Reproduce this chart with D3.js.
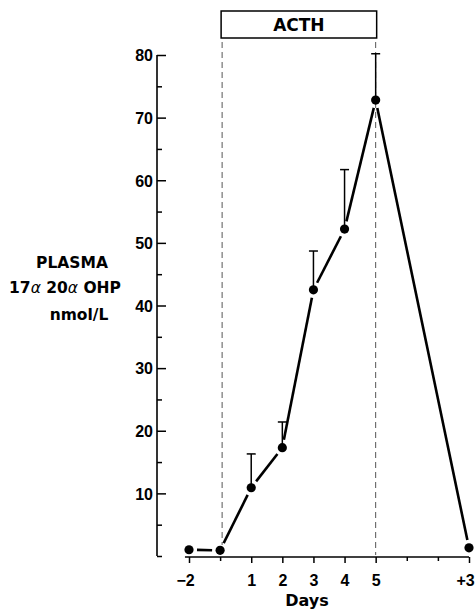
<!DOCTYPE html>
<html>
<head>
<meta charset="utf-8">
<script src="https://cdn.jsdelivr.net/npm/d3@7"></script>
<style>
  html, body { margin: 0; padding: 0; background: #fff; }
  svg { display: block; font-family: "DejaVu Sans", "Liberation Sans", Arial, sans-serif; }
  .axis text { font-size: 16px; font-weight: bold; fill: #000; }
  .axis line { stroke: #000; stroke-width: 1.5; }
</style>
</head>
<body>
<div id="root"></div>
<script>
// ——— data
const dayLabels = ["\u22122", "", "1", "2", "3", "4", "5", "", "", "+3"];
const minorDays = [1, 7, 8];
const dayIndex  = [0, 1, 2, 3, 4, 5, 6, 9];
const means     = [1.0, 0.9, 10.9, 17.3, 42.5, 52.2, 72.8, 1.3];
const errTop    = [null, null, 16.3, 21.4, 48.7, 61.7, 80.2, null];
const yTicks    = [10, 20, 30, 40, 50, 60, 70, 80];
const yMinor    = [0, 5, 15, 25, 35, 45, 55, 65, 75];
const acthSpan  = [1, 6];

const width = 476, height = 611;
const svg = d3.select("#root").append("svg")
  .attr("width", width).attr("height", height);

const x = d3.scaleLinear().domain([0, 9]).range([189, 469]);
const y = d3.scaleLinear().domain([0, 80]).range([556, 55]);
const xAxisY = 557, yAxisX = 157;

// ——— axe Y (ticks vers l'intérieur)
const gy = svg.append("g").attr("class", "axis")
  .attr("transform", `translate(${yAxisX},0)`);
gy.call(d3.axisLeft(y).tickValues(yTicks).tickSize(-9).tickPadding(4).tickFormat(d3.format("d")));
gy.select(".domain").remove();
gy.selectAll(".tick text").attr("dy", "0.36em");
svg.append("g").attr("transform", `translate(${yAxisX},0)`)
  .call(d3.axisLeft(y).tickValues(yMinor).tickSize(-5).tickFormat(""))
  .call(g => g.select(".domain").remove())
  .selectAll("line").attr("stroke", "#000").attr("stroke-width", 1.5);
svg.append("line")
  .attr("x1", yAxisX).attr("x2", yAxisX)
  .attr("y1", y(80)).attr("y2", y(0))
  .attr("stroke", "#000").attr("stroke-width", 1.6);

// ——— axe X
const gx = svg.append("g").attr("class", "axis")
  .attr("transform", `translate(0,${xAxisY})`);
gx.call(d3.axisBottom(x).tickValues(d3.range(10).filter(i => !minorDays.includes(i)))
  .tickSize(6).tickPadding(12).tickFormat(i => dayLabels[i]));
gx.select(".domain").remove();
gx.selectAll(".tick text").filter(i => i === 9).attr("dx", -4);
gx.selectAll(".tick text").filter(i => i === 0).attr("dx", -4);
svg.append("g").attr("transform", `translate(0,${xAxisY})`)
  .call(d3.axisBottom(x).tickValues(minorDays).tickSize(4).tickFormat(""))
  .call(g => g.select(".domain").remove())
  .selectAll("line").attr("stroke", "#000").attr("stroke-width", 1.5);
svg.append("line")
  .attr("x1", x(-0.13)).attr("x2", x(9))
  .attr("y1", xAxisY).attr("y2", xAxisY)
  .attr("stroke", "#000").attr("stroke-width", 1.6);

svg.append("text")
  .attr("x", 307).attr("y", 606)
  .attr("text-anchor", "middle")
  .attr("font-size", 16).attr("font-weight", "bold")
  .text("Days");

// ——— titre Y
const ylab = svg.append("text").attr("font-size", 15.5).attr("font-weight", "bold")
  .attr("text-anchor", "middle");
ylab.append("tspan").attr("x", 72).attr("y", 268).text("PLASMA");
const l2 = ylab.append("tspan").attr("x", 65).attr("y", 293);
l2.append("tspan").text("17");
l2.append("tspan").attr("font-weight", "normal").attr("font-style", "italic").text("\u03b1");
l2.append("tspan").text(" 20");
l2.append("tspan").attr("font-weight", "normal").attr("font-style", "italic").text("\u03b1");
l2.append("tspan").text(" OHP");
ylab.append("tspan").attr("x", 79).attr("y", 320).text("nmol/L");

// ——— encadré ACTH + pointillés
svg.append("rect")
  .attr("x", x(acthSpan[0]) + 1).attr("y", 11)
  .attr("width", x(acthSpan[1]) - x(acthSpan[0]))
  .attr("height", 27)
  .attr("fill", "none").attr("stroke", "#000").attr("stroke-width", 1.5);
svg.append("text")
  .attr("x", (x(acthSpan[0]) + x(acthSpan[1])) / 2 + 1).attr("y", 31)
  .attr("text-anchor", "middle")
  .attr("font-size", 17).attr("font-weight", "bold")
  .text("ACTH");

svg.append("line")
  .attr("x1", x(acthSpan[0]) + 2).attr("x2", x(acthSpan[0]) + 2)
  .attr("y1", 42).attr("y2", 545)
  .attr("stroke", "#555").attr("stroke-width", 1).attr("stroke-dasharray", "6,4");
svg.append("line")
  .attr("x1", x(acthSpan[1])).attr("x2", x(acthSpan[1]))
  .attr("y1", 42).attr("y2", 555)
  .attr("stroke", "#555").attr("stroke-width", 1).attr("stroke-dasharray", "6,4");

// ——— points
const pts = dayIndex.map((d, i) => ({ px: x(d), py: y(means[i]), top: errTop[i] }));

// segments avec un petit blanc autour des points
const gap = 8;
const segs = d3.pairs(pts).map(([a, b]) => {
  const dx = b.px - a.px, dy = b.py - a.py;
  const len = Math.hypot(dx, dy);
  const ux = dx / len, uy = dy / len;
  return { x1: a.px + ux * gap, y1: a.py + uy * gap, x2: b.px - ux * gap, y2: b.py - uy * gap };
});
svg.selectAll(".seg").data(segs).enter().append("line")
  .attr("x1", d => d.x1).attr("y1", d => d.y1)
  .attr("x2", d => d.x2).attr("y2", d => d.y2)
  .attr("stroke", "#000").attr("stroke-width", 2.6);

// barres d'erreur (vers le haut seulement)
const errs = pts.filter(p => p.top != null);
svg.selectAll(".err").data(errs).enter().append("line")
  .attr("x1", d => d.px).attr("x2", d => d.px)
  .attr("y1", d => d.py).attr("y2", d => y(d.top))
  .attr("stroke", "#000").attr("stroke-width", 1.5);
svg.selectAll(".cap").data(errs).enter().append("line")
  .attr("x1", d => d.px - 4.5).attr("x2", d => d.px + 4.5)
  .attr("y1", d => y(d.top)).attr("y2", d => y(d.top))
  .attr("stroke", "#000").attr("stroke-width", 1.5);

svg.selectAll(".dot").data(pts).enter().append("circle")
  .attr("cx", d => d.px).attr("cy", d => d.py)
  .attr("r", 4.6).attr("fill", "#000");
</script>
</body>
</html>
